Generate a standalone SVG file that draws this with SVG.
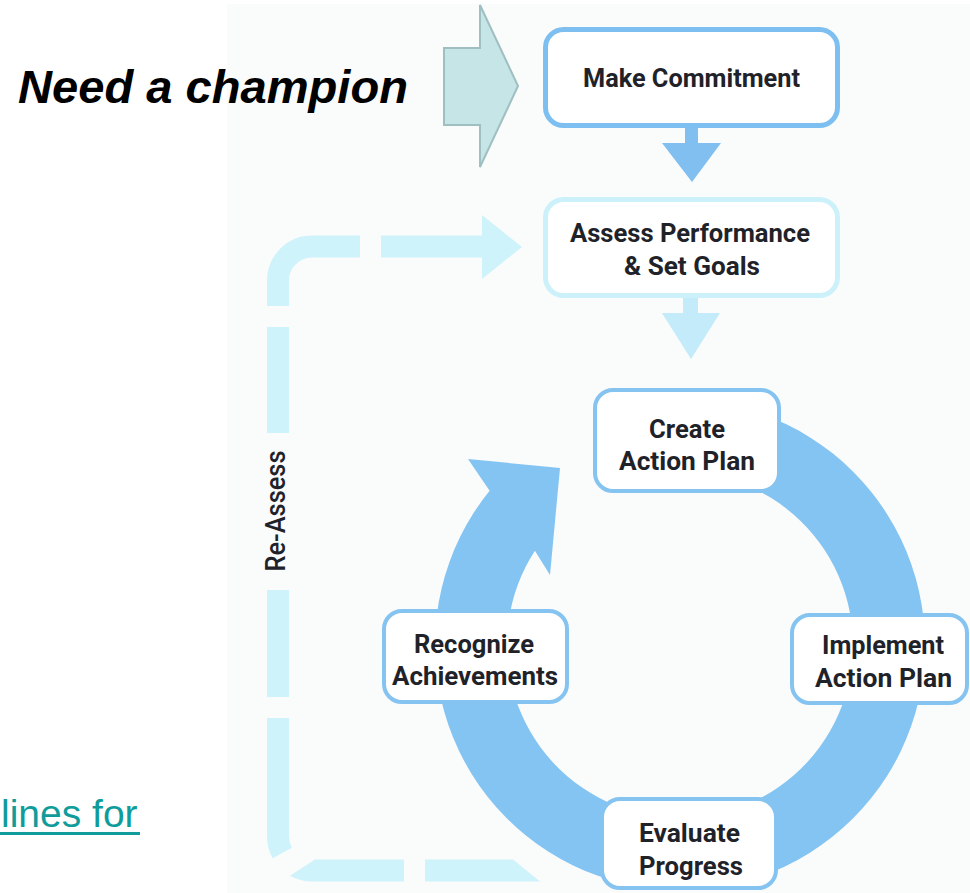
<svg xmlns="http://www.w3.org/2000/svg" width="970" height="893" viewBox="0 0 970 893">
  <style>
    .box { fill: #ffffff; stroke: #85c3f1; stroke-width: 4; }
    .box-strong { fill: #ffffff; stroke: #7dbff0; stroke-width: 5; }
    .box-light { fill: #ffffff; stroke: #cdf1fa; stroke-width: 5; }
    .lbl { font-family: Roboto, "Liberation Sans", sans-serif; font-weight: 700; font-size: 26px; fill: #1f2329; text-anchor: middle; }
    .dash { fill: none; stroke: #cff3fa; stroke-width: 22; stroke-linecap: butt; }
    .dashf { fill: #cff3fa; }
  </style>
  <rect x="0" y="0" width="970" height="893" fill="#ffffff"/>
  <rect x="227" y="4" width="743" height="889" fill="#fafbfb"/>

  <g id="champion-text">
    <text x="18" y="103" font-family="'Liberation Sans', Arial, sans-serif" font-weight="700" font-style="italic" font-size="46" fill="#000000" textLength="390" lengthAdjust="spacingAndGlyphs">Need a champion</text>
  </g>

  <g id="link-text">
    <text x="1" y="827" font-family="'Liberation Sans', Arial, sans-serif" font-size="39" fill="#109c9b">lines for</text>
    <rect x="0" y="832" width="140" height="3" fill="#109c9b"/>
  </g>

  <g id="connectors">
    <!-- big block arrow -->
    <polygon points="444,48 480,48 480,5 518,86 480,167 480,125 444,125" fill="#c5e5e7" stroke="#9fbfc1" stroke-width="2" stroke-linejoin="miter"/>
    <!-- Make -> Assess -->
    <rect x="685" y="126" width="13" height="18" fill="#80bff0"/>
    <polygon points="662,143 721,143 692,182" fill="#80bff0"/>
    <!-- Assess -> Create -->
    <rect x="683" y="296" width="15" height="18" fill="#c3ebf9"/>
    <polygon points="662,313 720,313 691,359" fill="#c3ebf9"/>
    <!-- Re-Assess dashed loop -->
    <path class="dash" d="M278,306 L278,280.5 A34,34 0 0 1 312,246.5 L360,246.5"/>
    <path class="dash" d="M381,246.5 L483,246.5"/>
    <polygon class="dashf" points="482,215 522,247 482,279"/>
    <path class="dash" d="M278,327 L278,433"/>
    <path class="dash" d="M278,590 L278,697"/>
    <path class="dash" d="M278,718 L278,836.5 A34,34 0 0 0 282.3,853"/>
    <path class="dashf" d="M315,859.5 L404,859.5 L404,881.5 L312,881.5 A45,45 0 0 1 290,875.7 Z"/>
    <polygon class="dashf" points="425,859.5 513,859.5 540,881.5 425,881.5"/>
    <text transform="translate(285,511) rotate(-90)" font-family="Roboto, 'Liberation Sans', sans-serif" font-weight="500" font-size="27" fill="#1f2329" text-anchor="middle" textLength="121" lengthAdjust="spacingAndGlyphs">Re-Assess</text>
    <!-- cycle ring with arrowhead -->
    <path d="M680,400 A245,245 0 1 1 489.6,490.8 L468,459 L560,468 L550,575 L534.9,550.8 A173,173 0 1 0 680,472 Z" fill="#84c4f2"/>
  </g>

  <g id="make-commitment">
    <rect class="box-strong" x="545.5" y="29.5" width="292" height="96" rx="18"/>
    <text class="lbl" x="691.5" y="87" textLength="217" lengthAdjust="spacingAndGlyphs">Make Commitment</text>
  </g>

  <g id="assess-performance">
    <rect class="box-light" x="545.5" y="199.5" width="292" height="96" rx="18"/>
    <text class="lbl" x="690" y="242" textLength="240" lengthAdjust="spacingAndGlyphs">Assess Performance</text>
    <text class="lbl" x="692" y="275" textLength="136" lengthAdjust="spacingAndGlyphs">&amp; Set Goals</text>
  </g>

  <g id="create-action-plan">
    <rect class="box" x="595" y="390" width="184" height="101" rx="18"/>
    <text class="lbl" x="687" y="438" textLength="76" lengthAdjust="spacingAndGlyphs">Create</text>
    <text class="lbl" x="687" y="470" textLength="136" lengthAdjust="spacingAndGlyphs">Action Plan</text>
  </g>

  <g id="implement-action-plan">
    <rect class="box" x="792" y="615" width="175" height="88" rx="18"/>
    <text class="lbl" x="883" y="654" textLength="122" lengthAdjust="spacingAndGlyphs">Implement</text>
    <text class="lbl" x="883.5" y="687" textLength="137" lengthAdjust="spacingAndGlyphs">Action Plan</text>
  </g>

  <g id="evaluate-progress">
    <rect class="box" x="602" y="799" width="174" height="89" rx="18"/>
    <text class="lbl" x="689.5" y="842" textLength="101" lengthAdjust="spacingAndGlyphs">Evaluate</text>
    <text class="lbl" x="691" y="875" textLength="104" lengthAdjust="spacingAndGlyphs">Progress</text>
  </g>

  <g id="recognize-achievements">
    <rect class="box" x="384" y="611" width="183" height="91" rx="18"/>
    <text class="lbl" x="474" y="653" textLength="120" lengthAdjust="spacingAndGlyphs">Recognize</text>
    <text class="lbl" x="475" y="685" textLength="166" lengthAdjust="spacingAndGlyphs">Achievements</text>
  </g>
</svg>
